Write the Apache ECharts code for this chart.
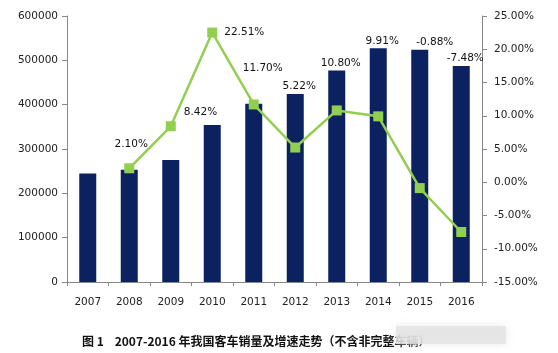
<!DOCTYPE html>
<html>
<head>
<meta charset="utf-8">
<script src="https://cdn.jsdelivr.net/npm/echarts@6/dist/echarts.min.js"></script>
<style>
  html, body { margin: 0; padding: 0; background: #fff; }
  #chart { width: 558px; height: 353px; }
</style>
</head>
<body>
<div id="chart"></div>
<script>
// 年份
var years = ['2007', '2008', '2009', '2010', '2011', '2012', '2013', '2014', '2015', '2016'];
// 客车销量（辆）
var sales = [245000, 253000, 275000, 354000, 402000, 424000, 477000, 527000, 524000, 487000];
// 增速（%）
var growth = [null, 2.10, 8.42, 22.51, 11.70, 5.22, 10.80, 9.91, -0.88, -7.48];
// 哪些增速标签放在柱子顶上
var labelOnBar = [false, false, false, false, false, true, true, true, true, true];

var caption = '图 1    2007-2016 年我国客车销量及增速走势（不含非完整车辆）';

var fontFam = 'DejaVu Sans';
var pct = function (v) { return v.toFixed(2) + '%'; };

// 折线上的标签位置
var lineLabel = {
    1: { position: 'top', offset: [2, -9] },
    2: { position: 'right', offset: [3, -14] },
    3: { position: 'right', offset: [2, 0] },
    4: { position: 'top', offset: [9, -21] }
};

var barData = sales.map(function (v, i) {
    var item = { value: v };
    if (labelOnBar[i]) {
        item.label = {
            show: true,
            position: 'top',
            distance: 2,
            offset: i === 8 ? [15, 0] : [4, 0],
            formatter: pct(growth[i])
        };
    }
    return item;
});

var lineData = growth.map(function (v, i) {
    var item = { value: v };
    if (lineLabel[i]) {
        item.label = {
            show: true,
            position: lineLabel[i].position,
            offset: lineLabel[i].offset,
            formatter: pct(v)
        };
    }
    return item;
});

var myChart = echarts.init(document.getElementById('chart'));

var axisLine = { show: true, lineStyle: { color: '#878787', width: 1 } };

var options = {
    animation: false,
    backgroundColor: '#fff',
    textStyle: { fontFamily: fontFam },
    grid: { left: 67, right: 76, top: 16, bottom: 71 },
    xAxis: {
        type: 'category',
        data: years,
        axisLine: axisLine,
        axisTick: { show: true, length: 4, lineStyle: { color: '#878787' } },
        axisLabel: { color: '#222', fontSize: 10.5, margin: 15, fontFamily: fontFam }
    },
    yAxis: [
        {
            type: 'value',
            min: 0,
            max: 600000,
            interval: 100000,
            axisLine: axisLine,
            axisTick: { show: true, length: 5, lineStyle: { color: '#878787' } },
            axisLabel: {
                color: '#222', fontSize: 10.5, margin: 9, fontFamily: fontFam,
                formatter: function (v) { return String(v); }
            },
            splitLine: { show: false }
        },
        {
            type: 'value',
            min: -15,
            max: 25,
            interval: 5,
            position: 'right',
            axisLine: axisLine,
            axisTick: { show: true, length: 5, lineStyle: { color: '#878787' } },
            axisLabel: { color: '#222', fontSize: 10.5, margin: 12, fontFamily: fontFam, formatter: pct },
            splitLine: { show: false }
        }
    ],
    series: [
        {
            name: '销量',
            type: 'bar',
            barWidth: 17,
            data: barData,
            itemStyle: { color: '#0b2160' },
            label: { color: '#111', fontSize: 10.5, fontFamily: fontFam }
        },
        {
            name: '增速',
            type: 'line',
            yAxisIndex: 1,
            data: lineData,
            symbol: 'rect',
            symbolSize: 10,
            connectNulls: false,
            lineStyle: { color: '#92cf50', width: 2.5 },
            itemStyle: { color: '#92cf50' },
            label: { color: '#111', fontSize: 10.5, fontFamily: fontFam }
        }
    ],
    graphic: [
        {
            type: 'text',
            left: 82,
            top: 335,
            style: {
                text: caption,
                font: 'bold 12px "Noto Sans CJK SC"',
                fill: '#111'
            }
        },
        {
            type: 'rect',
            shape: { x: 396, y: 326, width: 110, height: 18 },
            style: { fill: 'rgba(228,228,228,0.8)', shadowBlur: 8, shadowColor: 'rgba(225,225,225,0.9)' }
        }
    ]
};

myChart.setOption(options);
</script>
</body>
</html>
